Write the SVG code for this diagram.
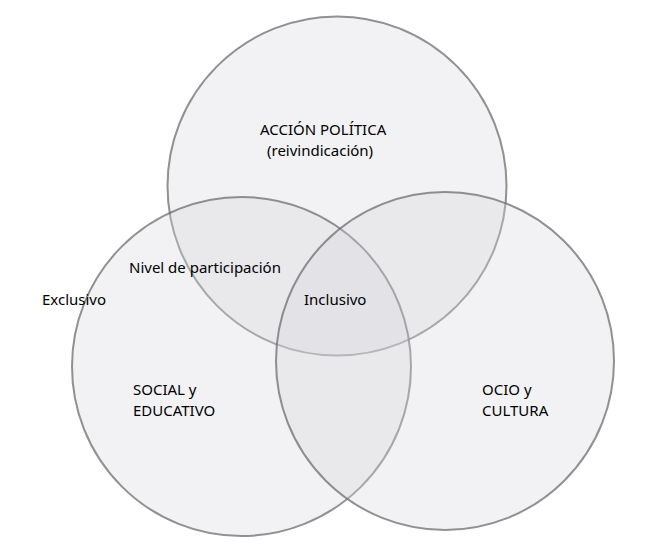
<svg xmlns="http://www.w3.org/2000/svg" width="650" height="557" viewBox="0 0 650 557">
<style>
.c{fill:#d6d6de;fill-opacity:0.32;stroke:#6e6e6e;stroke-opacity:0.75;stroke-width:2}
text{font-family:"Noto Sans","DejaVu Sans",sans-serif;font-size:15px;fill:#000}
</style>
<rect width="650" height="557" fill="#ffffff"/>
<g id="circle-accion"><circle class="c" cx="337" cy="186" r="169.5"/></g>
<g id="circle-social"><circle class="c" cx="241.5" cy="366.5" r="169.5"/></g>
<g id="circle-ocio"><circle class="c" cx="445" cy="361" r="169"/></g>
<g id="labels">
<text x="260" y="135">ACCIÓN POLÍTICA</text>
<text x="267" y="156">(reivindicación)</text>
<text x="129" y="273">Nivel de participación</text>
<text x="42" y="305">Exclusivo</text>
<text x="304" y="305">Inclusivo</text>
<text x="133" y="395">SOCIAL y</text>
<text x="133" y="416">EDUCATIVO</text>
<text x="482" y="395">OCIO y</text>
<text x="482" y="416">CULTURA</text>
</g>
</svg>
